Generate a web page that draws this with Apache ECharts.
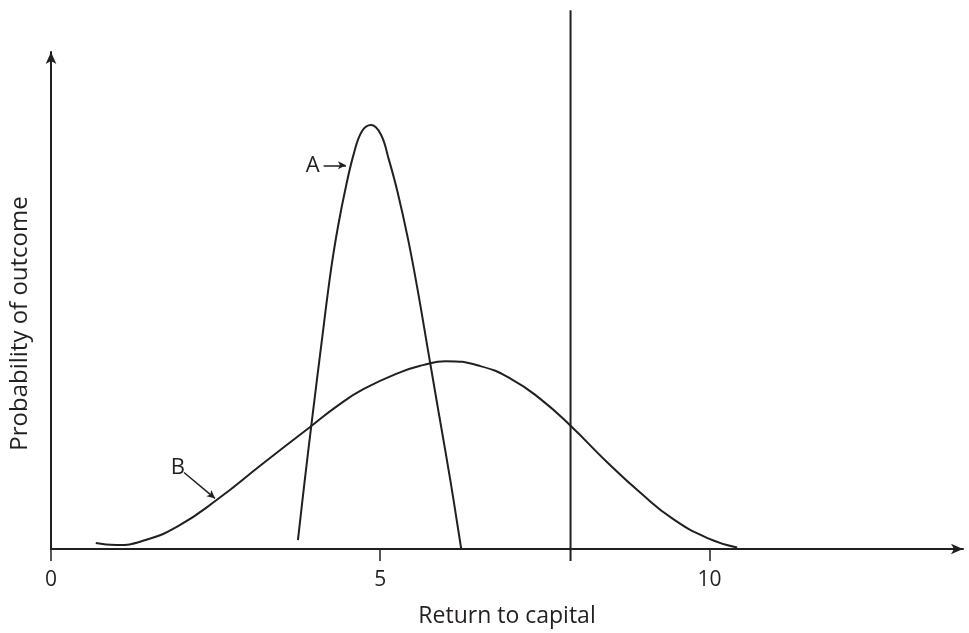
<!DOCTYPE html>
<html>
<head>
<meta charset="utf-8">
<script src="https://cdn.jsdelivr.net/npm/echarts@6/dist/echarts.min.js"></script>
<style>
  html, body { margin: 0; padding: 0; background: #fff; }
  #chart { width: 969px; height: 633px; }
</style>
</head>
<body>
<div id="chart"></div>
<script>
// x: return to capital, y: probability (arbitrary 0-100)
var xTicks = [0, 5, 10];
// curve A, narrow distribution
var curveA = [
  [3.75, 1.8], [3.85, 13.4], [3.97, 26.7], [4.11, 41.6], [4.25, 56.0],
  [4.36, 65.0], [4.48, 73.0], [4.60, 79.6], [4.72, 84.0], [4.86, 85.3],
  [5.01, 83.4], [5.13, 78.4], [5.26, 72.0], [5.42, 62.5], [5.57, 52.0],
  [5.73, 39.6], [5.90, 26.5], [6.07, 13.4], [6.23, 0.0]
];
// curve B, wide distribution
var curveB = [
  [0.68, 1.2], [0.99, 0.8], [1.41, 1.7], [1.93, 4.6], [2.53, 10.0],
  [3.19, 16.9], [3.94, 24.6], [4.35, 28.8], [4.75, 32.2], [5.31, 35.6],
  [5.65, 37.0], [5.99, 37.8], [6.52, 36.8], [6.99, 34.2], [7.43, 30.2],
  [7.89, 24.8], [8.45, 17.4], [8.96, 11.2], [9.45, 6.0], [9.97, 2.2],
  [10.42, 0.3]
];
var cutOffX = 7.89;
var cutOffRange = [-2.4, 108.4];
// annotation arrows: [label, from, to]
var arrowA = ['A', [4.14, 77.2], [4.48, 77.2]];
var arrowB = ['B', [2.02, 15.4], [2.49, 10.2]];

var ink = '#231f20';
var font = 'Open Sans';

function arrowLine(a) {
  return [
    { coord: a[1], label: { show: true, formatter: a[0], position: 'start' } },
    { coord: a[2] }
  ];
}

var myChart = echarts.init(document.getElementById('chart'));
var option = {
  animation: false,
  backgroundColor: '#fff',
  grid: { left: 50, right: 6, top: 52, bottom: 81 },
  xAxis: {
    type: 'value',
    min: 0,
    max: 13.85,
    name: 'Return to capital',
    nameLocation: 'middle',
    nameGap: 56,
    nameTextStyle: { fontFamily: font, fontSize: 23, color: ink },
    splitLine: { show: false },
    axisLine: { lineStyle: { color: ink, width: 2 }, symbol: ['none', 'arrow'], symbolSize: [8, 12] },
    axisTick: { length: 12, lineStyle: { color: ink, width: 1.5 }, customValues: xTicks },
    axisLabel: { customValues: xTicks, fontFamily: font, fontSize: 21, color: ink, margin: 21 }
  },
  yAxis: {
    type: 'value',
    min: 0,
    max: 100,
    name: 'Probability of outcome',
    nameLocation: 'middle',
    nameRotate: 90,
    nameGap: 19,
    nameTextStyle: { fontFamily: font, fontSize: 24, color: ink, padding: [0, 46, 0, 0] },
    splitLine: { show: false },
    axisLine: { show: true, onZero: false, lineStyle: { color: ink, width: 2 }, symbol: ['none', 'arrow'], symbolSize: [8, 12] },
    axisTick: { show: false },
    axisLabel: { show: false }
  },
  series: [
    {
      name: 'A', type: 'line', data: curveA, smooth: 0.4, showSymbol: false,
      lineStyle: { color: ink, width: 2 },
      markLine: {
        silent: true, symbol: ['none', 'arrow'], symbolSize: [6, 8],
        lineStyle: { color: ink, width: 1.5, type: 'solid' },
        label: { fontFamily: font, fontSize: 22, color: ink, distance: 4 },
        data: [arrowLine(arrowA)]
      }
    },
    {
      name: 'B', type: 'line', data: curveB, smooth: 0.5, showSymbol: false,
      lineStyle: { color: ink, width: 2 },
      markLine: {
        silent: true, symbol: ['none', 'arrow'], symbolSize: [6, 8],
        lineStyle: { color: ink, width: 1.5, type: 'solid' },
        label: { fontFamily: font, fontSize: 22, color: ink, distance: 8 },
        data: [arrowLine(arrowB)]
      }
    },
    {
      name: 'Cut-off', type: 'line', clip: false, showSymbol: false,
      lineStyle: { color: ink, width: 2 },
      data: [
        [cutOffX, cutOffRange[0]],
        {
          value: [cutOffX, cutOffRange[1]],
          label: {
            show: true, formatter: 'Cut-off line', position: 'right',
            offset: [4, 37], fontFamily: font, fontSize: 23, color: ink
          }
        }
      ]
    }
  ]
};
myChart.setOption(option);
</script>
</body>
</html>
